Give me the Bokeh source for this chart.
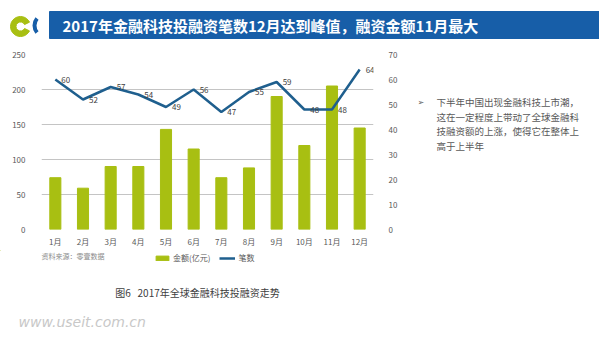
from bokeh.plotting import figure
from bokeh.models import (Range1d, LinearAxis, FactorRange, Legend, LegendItem,
                          ColumnDataSource, FixedTicker)
from bokeh.layouts import column, row
from bokeh.embed import file_html
from bokeh.resources import INLINE
from bokeh.core.properties import value

# ---------------- data ----------------
months = ["1月", "2月", "3月", "4月", "5月", "6月", "7月", "8月", "9月", "10月", "11月", "12月"]
amounts = [74, 59, 90, 90, 143, 115, 74, 88, 190, 120, 205, 145]   # 金额(亿元)
counts = [60, 52, 57, 54, 49, 56, 47, 55, 59, 48, 48, 64]           # 笔数
left_ticks = [0, 50, 100, 150, 200, 250]
right_ticks = [0, 10, 20, 30, 40, 50, 60, 70]
legend_labels = ["金额(亿元)", "笔数"]
title_text = "2017年金融科技投融资笔数12月达到峰值，融资金额11月最大"
note_lines = ["下半年中国出现金融科技上市潮，",
              "这在一定程度上带动了全球金融科",
              "技融资额的上涨，使得它在整体上",
              "高于上半年"]
caption_text = "图6\u00a0\u00a0\u00a02017年全球金融科技投融资走势"
source_text = "资料来源：零壹数据"
watermark_text = "www.useit.com.cn"

FONT = "Noto Sans CJK SC"
GREEN = "#a8bf12"
BLUE_LINE = "#1f5f8e"
BANNER = "#175ea8"


def canvas(w, h):
    f = figure(width=w, height=h, x_range=Range1d(0, w), y_range=Range1d(h, 0),
               x_axis_type=None, y_axis_type=None, toolbar_location=None,
               output_backend="svg", min_border=0, outline_line_color=None)
    f.title.visible = False
    f.background_fill_color = "white"
    f.border_fill_color = "white"
    f.grid.visible = False
    return f


# ---------------- header ----------------
hdr = canvas(599, 45)
hdr.quad(left=[49], right=[599], top=[11], bottom=[38], color=BANNER)
hdr.annular_wedge(x=[20], y=[26], inner_radius=4.5, outer_radius=10,
                  start_angle=0.45, end_angle=5.83, color=GREEN)
hdr.arc(x=[45], y=[25], radius=11, start_angle=2.45, end_angle=3.83,
        line_color=BANNER, line_width=4)
hdr.text(x=[62], y=[25], text=[title_text], text_color="white",
         text_font=value(FONT), text_font_size="15px", text_font_style="bold",
         text_baseline="middle", text_align="left")

# ---------------- chart ----------------
src = ColumnDataSource(dict(m=months, a=amounts, c=counts))
p = figure(width=400, height=205, x_range=FactorRange(factors=months, range_padding=0),
           y_range=Range1d(0, 250), toolbar_location=None, output_backend="svg",
           min_border_left=41, min_border_right=26, min_border_top=9,
           min_border_bottom=21, outline_line_color=None)
p.title.visible = False
p.background_fill_color = "white"
p.border_fill_color = "white"
p.extra_y_ranges = {"right": Range1d(0, 70)}

bars = p.vbar(x="m", top="a", width=0.4, color=GREEN, source=src)
line = p.line(x="m", y="c", y_range_name="right", line_color=BLUE_LINE,
              line_width=2.5, source=src)
p.text(x="m", y="c", text="c", y_range_name="right", x_offset=6,
       text_font=value(FONT), text_font_size="8px", text_color="#404040",
       text_baseline="middle", text_align="left", source=src)

p.yaxis[0].ticker = FixedTicker(ticks=left_ticks)
raxis = LinearAxis(y_range_name="right", ticker=FixedTicker(ticks=right_ticks))
p.add_layout(raxis, "right")

for ax in [p.yaxis[0], raxis, p.xaxis[0]]:
    ax.axis_line_color = None
    ax.major_tick_line_color = None
    ax.minor_tick_line_color = None
    ax.major_label_text_font = FONT
    ax.major_label_text_font_size = "8px"
    ax.major_label_text_color = "#595959"
p.yaxis[0].major_label_standoff = 10
raxis.major_label_standoff = 9
p.xaxis[0].major_label_standoff = 0

p.xgrid.visible = False
p.ygrid.ticker = FixedTicker(ticks=left_ticks)
p.ygrid.grid_line_color = "#c4c4c4"
p.ygrid.grid_line_width = 1

# ---------------- side note ----------------
note = canvas(199, 205)
note.text(x=[17], y=[56], text=["➢"], text_font=value("DejaVu Sans"),
          text_font_size="8px", text_color="#595959", text_baseline="middle")
note.text(x=[36] * len(note_lines), y=[56 + 17 * i for i in range(len(note_lines))],
          text=note_lines, text_font=value(FONT), text_font_size="9.5px",
          text_color="#595959", text_baseline="middle", text_align="left")

# ---------------- source + legend strip ----------------
strip = canvas(599, 35)
strip.text(x=[41], y=[5.5], text=[source_text], text_font=value(FONT),
           text_font_size="7px", text_color="#8c8c8c", text_baseline="middle",
           text_align="left")
# legend swatches only (placed outside the visible strip range)
leg_bar = strip.vbar(x=[-1000], top=[-1000], bottom=[-1001], width=0.4, color=GREEN)
leg_line = strip.line(x=[-1000, -999], y=[-1000, -1000], line_color=BLUE_LINE,
                      line_width=2.5)
legend = Legend(items=[LegendItem(label=legend_labels[0], renderers=[leg_bar]),
                       LegendItem(label=legend_labels[1], renderers=[leg_line])],
                orientation="horizontal", location=(154, 22),
                label_text_font=FONT, label_text_font_size="8px",
                label_text_color="#595959", glyph_width=16, glyph_height=6,
                spacing=9, padding=2, margin=0, label_standoff=3,
                border_line_color=None, background_fill_alpha=0)
strip.add_layout(legend, "center")

# ---------------- footer ----------------
ftr = canvas(599, 52)
ftr.text(x=[197], y=[7], text=[caption_text], text_font=value(FONT),
         text_font_size="10px", text_color="#404040", text_baseline="middle",
         text_align="center")
ftr.text(x=[18], y=[36], text=[watermark_text], text_font=value("DejaVu Sans"),
         text_font_size="14px", text_font_style="italic", text_color="#c8c8c8",
         text_baseline="middle", text_align="left")

layout = column(hdr, row(p, note, spacing=0), strip, ftr, spacing=0)
open("out.html", "w").write(file_html(layout, INLINE))
